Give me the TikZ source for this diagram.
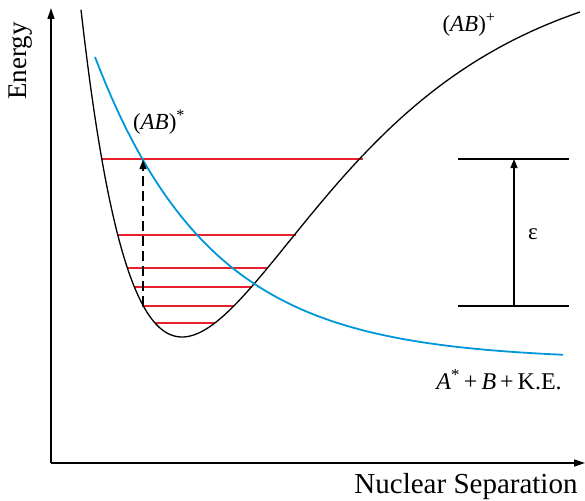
\documentclass[tikz,border=0pt]{standalone}
\usepackage{fontspec}
\setmainfont{Liberation Serif}
\usetikzlibrary{arrows.meta}
\definecolor{levelred}{RGB}{232,32,44}
\definecolor{curveblue}{RGB}{0,150,218}
\begin{document}
\begin{tikzpicture}[x=1pt,y=-1pt,
  axis/.style={line width=1.5pt,-{Triangle[length=11pt,width=7pt]}},
  level/.style={draw=levelred,line width=1.5pt},
  morse/.style={draw=black,line width=1.3pt},
  repuls/.style={draw=curveblue,line width=1.8pt},
  bigtxt/.style={font=\fontsize{27}{30}\selectfont,inner sep=0pt},
  lbl/.style={font=\fontsize{23}{27}\selectfont,inner sep=0pt},
  bracketline/.style={line width=1.3pt},
  transarrow/.style={line width=1.3pt,-{Triangle[length=9pt,width=7pt]}},
  dasharrow/.style={line width=1.4pt,dash pattern=on 10pt off 5pt,-{Triangle[length=9pt,width=7pt]}}]
\useasboundingbox (0,0) rectangle (585,500);
% axes
\coordinate (O) at (51,463);
\coordinate (ytop) at (51,8);
\coordinate (xend) at (585,463);
\draw[axis] (O) -- (ytop);
\draw[axis] (O) -- (xend);
\node[bigtxt,rotate=90] (energy) at (21,61) {Energy};
\node[bigtxt,font=\fontsize{29}{32}\selectfont,anchor=base] (nucsep) at (466,493) {Nuclear Separation};
% vibrational levels
\coordinate (l1a) at (102,159); \coordinate (l1b) at (363,159);
\coordinate (l2a) at (118,235); \coordinate (l2b) at (296,235);
\coordinate (l3a) at (127,268); \coordinate (l3b) at (267,268);
\coordinate (l4a) at (134,287); \coordinate (l4b) at (252,287);
\coordinate (l5a) at (142,306); \coordinate (l5b) at (234,306);
\coordinate (l6a) at (155,323); \coordinate (l6b) at (215,323);
\draw[level] (l1a) -- (l1b);
\draw[level] (l2a) -- (l2b);
\draw[level] (l3a) -- (l3b);
\draw[level] (l4a) -- (l4b);
\draw[level] (l5a) -- (l5b);
\draw[level] (l6a) -- (l6b);
% bound potential (AB)+ : Morse curve
\draw[morse] plot[domain=81:580,samples=160,smooth] (\x,{337-380*(1-exp(-0.0065*(\x-182)))^2});
% repulsive curve (AB)*
\draw[repuls] plot[domain=95:563,samples=90] (\x,{360-303*exp(-0.00866*(\x-95))});
% dashed transition
\coordinate (dbot) at (143,306);
\coordinate (dtop) at (143,160);
\draw[dasharrow] (dbot) -- (dtop);
% epsilon bracket
\coordinate (eta) at (458,159); \coordinate (etb) at (569,159);
\coordinate (eba) at (458,306); \coordinate (ebb) at (569,306);
\coordinate (earrb) at (514,306); \coordinate (earrt) at (514,159);
\draw[bracketline] (eta) -- (etb);
\draw[bracketline] (eba) -- (ebb);
\draw[transarrow] (earrb) -- (earrt);
\node[lbl] (eps) at (533,234) {ε};
% labels
\node[lbl] (abplus) at (469,25) {(\textit{AB})\textsuperscript{+}};
\node[lbl] (abstar) at (159,122) {(\textit{AB})\textsuperscript{*}};
\node[lbl,font=\fontsize{24}{28}\selectfont] (products) at (499,380) {\textit{A}\textsuperscript{*}\,+\,\textit{B}\,+\,K.E.};
\end{tikzpicture}
\end{document}
